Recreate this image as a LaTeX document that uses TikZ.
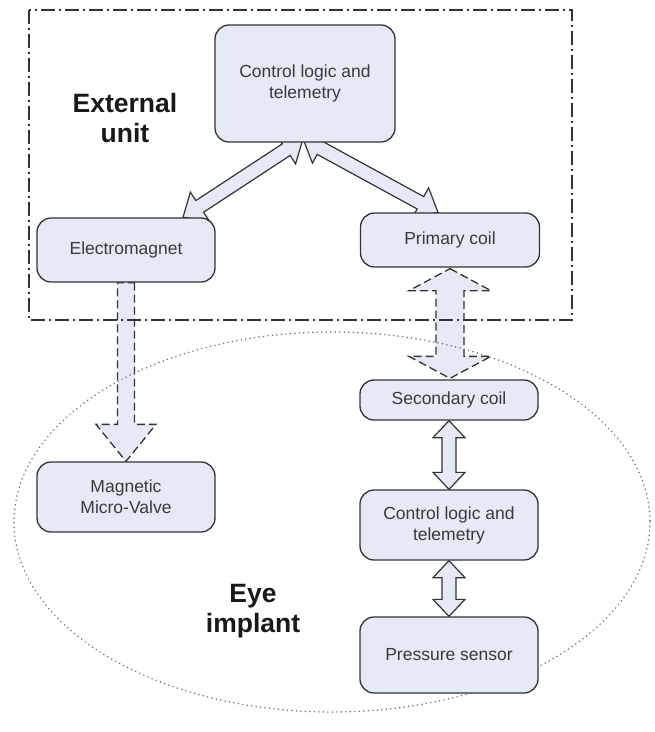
\documentclass[tikz,border=0pt]{standalone}
\usepackage{fontspec}
\setmainfont{Liberation Sans}
\usetikzlibrary{calc}
\pgfdeclarelayer{background}
\pgfsetlayers{background,main}
\definecolor{boxfill}{HTML}{E6EAF6}
\definecolor{boxline}{HTML}{333333}
\definecolor{txtcol}{HTML}{3A3A3A}
\definecolor{dotcol}{HTML}{707070}
\newcommand{\dblblock}[6]{%
  \path[#6] (#1)
   -- ($ ($(#1)!#5!(#2)$)!#4!90:(#2) $)
   -- ($ ($(#1)!#5!(#2)$)!#3!90:(#2) $)
   -- ($ ($(#2)!#5!(#1)$)!#3!-90:(#1) $)
   -- ($ ($(#2)!#5!(#1)$)!#4!-90:(#1) $)
   -- (#2)
   -- ($ ($(#2)!#5!(#1)$)!#4!90:(#1) $)
   -- ($ ($(#2)!#5!(#1)$)!#3!90:(#1) $)
   -- ($ ($(#1)!#5!(#2)$)!#3!-90:(#2) $)
   -- ($ ($(#1)!#5!(#2)$)!#4!-90:(#2) $)
   -- cycle;}
\newcommand{\sglblock}[6]{%
  \path[#6] ($(#1)!#3!90:(#2)$)
   -- ($ ($(#2)!#5!(#1)$)!#3!-90:(#1) $)
   -- ($ ($(#2)!#5!(#1)$)!#4!-90:(#1) $)
   -- (#2)
   -- ($ ($(#2)!#5!(#1)$)!#4!90:(#1) $)
   -- ($ ($(#2)!#5!(#1)$)!#3!90:(#1) $)
   -- ($(#1)!#3!-90:(#2)$)
   -- cycle;}
\tikzset{
  unitbox/.style={draw=boxline, line width=1.3pt, fill=boxfill, rounded corners=14pt,
    align=center, text=txtcol, font=\fontsize{17.5}{21}\selectfont, inner sep=0pt},
  bigtxt/.style={align=center, text=black!90, font=\bfseries\fontsize{26.5}{30}\selectfont},
  solidarrow/.style={draw=boxline, line width=1.2pt, fill=boxfill, line join=miter},
  dasharrow/.style={draw=boxline, line width=1.3pt, fill=boxfill, dash pattern=on 8pt off 4pt},
  frame/.style={draw=boxline, line width=1.4pt, dash pattern=on 14pt off 4pt on 2pt off 4pt},
  dotframe/.style={draw=dotcol, line width=1.7pt, line cap=round, dash pattern=on 0pt off 4.5pt}
}
\begin{document}
\begin{tikzpicture}[x=1pt,y=-1pt]
\useasboundingbox (0,0) rectangle (655,732);
\path
  (305,83.5) node[unitbox, minimum width=180pt, minimum height=117pt] (top) {Control logic and\\telemetry}
  (126,250) node[unitbox, minimum width=178pt, minimum height=64pt] (em) {Electromagnet}
  (450,240) node[unitbox, minimum width=179pt, minimum height=54pt] (pc) {Primary coil}
  (449,400) node[unitbox, minimum width=178pt, minimum height=40pt] (sc) {Secondary coil}
  (449,525) node[unitbox, minimum width=178pt, minimum height=70pt] (cl) {Control logic and\\telemetry}
  (449,655) node[unitbox, minimum width=178pt, minimum height=76pt] (ps) {Pressure sensor}
  (126,497) node[unitbox, minimum width=178pt, minimum height=70pt] (mv) {Magnetic\\Micro-Valve};
\node[bigtxt] (ext) at (125,118) {External\\unit};
\node[bigtxt] (eye) at (253,611) {Eye\\implant};
% connector end points
\coordinate (j) at ($(top.south)+(-2,-4)$);
\coordinate (emt) at ($(em.north)+(57,0)$);
\coordinate (pct) at ($(pc.north)+(-12,0)$);
\coordinate (ems) at (em.south);
\coordinate (mvn) at (mv.north);
\coordinate (pcs) at ($(pc.south)+(0,1)$);
\coordinate (scn) at ($(sc.north)+(1,-1)$);
\coordinate (scs) at (sc.south);
\coordinate (cln) at (cl.north);
\coordinate (cls) at (cl.south);
\coordinate (psn) at (ps.north);
\begin{pgfonlayer}{background}
\dblblock{emt}{j}{7pt}{17pt}{20pt}{solidarrow}
\dblblock{pct}{j}{7pt}{17pt}{20pt}{solidarrow}
\sglblock{ems}{mvn}{8.5pt}{30pt}{37pt}{dasharrow}
\dblblock{pcs}{scn}{14pt}{41pt}{22pt}{dasharrow}
\dblblock{scs}{cln}{7pt}{16pt}{17pt}{solidarrow}
\dblblock{cls}{psn}{7pt}{16pt}{17pt}{solidarrow}
\draw[frame] (29,10) rectangle (572,320);
\draw[dotframe] (332,522) ellipse [x radius=318, y radius=190];
\end{pgfonlayer}
\end{tikzpicture}
\end{document}
